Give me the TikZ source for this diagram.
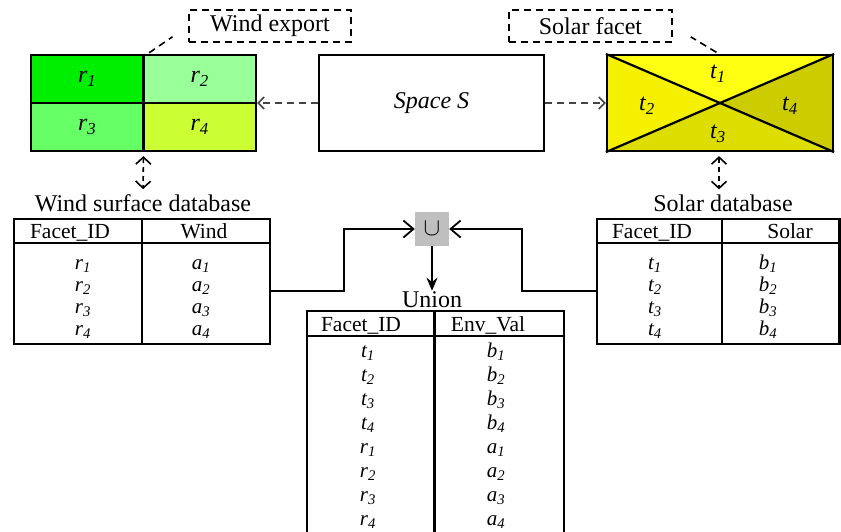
\documentclass[tikz,border=0pt]{standalone}
\usepackage{fontspec}
\setmainfont{Liberation Serif}
\usetikzlibrary{arrows.meta, positioning, calc}

\definecolor{rone}{RGB}{0,238,0}
\definecolor{rtwo}{RGB}{153,255,153}
\definecolor{rthree}{RGB}{102,255,102}
\definecolor{rfour}{RGB}{204,255,51}
\definecolor{tone}{RGB}{255,255,17}
\definecolor{ttwo}{RGB}{245,240,0}
\definecolor{tthree}{RGB}{221,221,0}
\definecolor{tfour}{RGB}{204,204,0}
\definecolor{linkgray}{RGB}{68,68,68}

\newcommand{\fid}[2]{\textit{#1\textsubscript{#2}}}

\tikzset{
    box/.style = {draw, line width=2.2pt, inner sep=0pt},
    rule/.style = {line width=2.2pt},
    cellbox/.style = {box, minimum width=112.5pt, minimum height=48pt,
        font=\fontsize{24}{28}\selectfont},
    note/.style = {draw, line width=1.6pt, dash pattern=on 7pt off 5pt,
        minimum height=32pt, inner sep=0pt, font=\fontsize{24}{28}\selectfont},
    lbl/.style = {inner sep=1pt, font=\fontsize{24}{28}\selectfont},
    head/.style = {inner sep=0pt, anchor=base, font=\fontsize{21.5}{25}\selectfont},
    cell/.style = {inner sep=0pt, anchor=base, font=\fontsize{21}{25}\selectfont},
    leader/.style = {line width=1.6pt, dash pattern=on 7pt off 5pt},
    probe/.style = {linkgray, line width=1.6pt, dash pattern=on 7pt off 5pt,
        -{Straight Barb[length=6pt, width=12pt]}},
    lookup/.style = {line width=1.6pt, dash pattern=on 5pt off 4pt,
        {Straight Barb[length=7pt, width=15pt]}-{Straight Barb[length=7pt, width=15pt]},
        shorten <=4pt, shorten >=4pt},
    merge/.style = {line width=1.8pt, -{Straight Barb[length=10pt, width=17pt]}},
    result/.style = {line width=1.8pt, -{Stealth[length=13pt, width=11pt]}}
}

\begin{document}
\begin{tikzpicture}[x=1pt, y=-1pt]
    \useasboundingbox (0,0) rectangle (841,531);

    % wind facets
    \node[cellbox, fill=rone] (r1) at (87.25,79) {\fid{r}{1}};
    \node[cellbox, fill=rtwo] (r2) at (199.75,79) {\fid{r}{2}};
    \node[cellbox, fill=rthree] (r3) at (87.25,127) {\fid{r}{3}};
    \node[cellbox, fill=rfour] (r4) at (199.75,127) {\fid{r}{4}};
    \node[box, minimum width=225pt, minimum height=96pt] (wgrid) at (143.5,103) {};

    % space
    \node[box, minimum width=225pt, minimum height=96pt,
          font=\fontsize{24}{28}\selectfont\itshape] (space) at (431.5,103) {Space S};

    % solar facets
    \coordinate (sc) at (720,103);
    \fill[tone] (607,55) -- (833,55) -- (sc) -- cycle;
    \fill[ttwo] (607,55) -- (607,151) -- (sc) -- cycle;
    \fill[tthree] (607,151) -- (833,151) -- (sc) -- cycle;
    \fill[tfour] (833,55) -- (833,151) -- (sc) -- cycle;
    \node[box, minimum width=226pt, minimum height=96pt] (sgrid) at (sc) {};
    \draw[rule] (sgrid.north west) -- (sgrid.south east);
    \draw[rule] (sgrid.south west) -- (sgrid.north east);
    \node[lbl] (t1) at (718,74) {\fid{t}{1}};
    \node[lbl] (t2) at (647,106) {\fid{t}{2}};
    \node[lbl] (t3) at (718,134) {\fid{t}{3}};
    \node[lbl] (t4) at (790,106) {\fid{t}{4}};

    % callouts
    \node[note, minimum width=162pt] (wexp) at (270,26) {Wind export};
    \node[note, minimum width=163pt] (sfac) at (590.5,26) {Solar facet};
    \draw[leader, shorten <=2pt, shorten >=19pt] ([xshift=4pt]wgrid.north) -- (wexp.west);
    \draw[leader, shorten <=3pt, shorten >=21pt] ([xshift=-1pt]sgrid.north) -- (sfac.east);

    \draw[probe] (space.west) -- (wgrid.east);
    \draw[probe] (space.east) -- (sgrid.west);

    % databases
    \node[lbl] (wlabel) at (143,203) {Wind surface database};
    \node[lbl] (slabel) at (723,203) {Solar database};
    \draw[lookup] (wgrid.south) -- (wlabel.north);
    \draw[lookup] ([xshift=-1pt]sgrid.south) -- ([xshift=-4pt]slabel.north);

    \node[box, minimum width=256pt, minimum height=125pt] (wtab) at (142,281.5) {};
    \draw[rule] ($(wtab.north west)+(0,25)$) -- ($(wtab.north east)+(0,25)$);
    \draw[rule] ($(wtab.north west)+(129,0)$) -- ($(wtab.south west)+(129,0)$);
    \node[head] at (70,238) {Facet\_ID};
    \node[head] at (204,238) {Wind};
    \foreach \i [evaluate=\i as \y using 247+22*\i] in {1,...,4} {
        \node[cell] (wid\i) at (83,\y) {\fid{r}{\i}};
        \node[cell] (wval\i) at (201,\y) {\fid{a}{\i}};
    }

    \node[box, minimum width=242.5pt, minimum height=125pt] (stab) at (718.25,281.5) {};
    \draw[rule] ($(stab.north west)+(0,25)$) -- ($(stab.north east)+(0,25)$);
    \draw[rule] ($(stab.north west)+(126,0)$) -- ($(stab.south west)+(126,0)$);
    \node[head] at (652,238) {Facet\_ID};
    \node[head] at (790,238) {Solar};
    \foreach \i [evaluate=\i as \y using 247+22*\i] in {1,...,4} {
        \node[cell] (sid\i) at (655,\y) {\fid{t}{\i}};
        \node[cell] (sval\i) at (768,\y) {\fid{b}{\i}};
    }

    % union
    \node[fill=gray!50, minimum size=34pt, inner sep=0pt,
          font=\fontsize{27}{30}\selectfont] (cup) at (432,229) {$\cup$};
    \draw[merge] ([yshift=-9.5pt]wtab.east) -- ++(73,0) |- (cup.west);
    \draw[merge] ([yshift=-9.5pt]stab.west) -- ++(-74,0) |- (cup.east);

    \node[lbl] (ulabel) at (432,300) {Union};
    \draw[result] (cup.south) -- (ulabel.north);

    \node[box, minimum width=257pt, minimum height=229pt] (utab) at (435.5,425.5) {};
    \draw[rule] ($(utab.north west)+(0,26)$) -- ($(utab.north east)+(0,26)$);
    \draw[rule] ($(utab.north west)+(128.5,0)$) -- ($(utab.south west)+(128.5,0)$);
    \node[head] at (361,331) {Facet\_ID};
    \node[head] at (488,331) {Env\_Val};
    \foreach \i [evaluate=\i as \y using 333+24*\i] in {1,...,4} {
        \node[cell] (uid\i) at (368,\y) {\fid{t}{\i}};
        \node[cell] (uval\i) at (496,\y) {\fid{b}{\i}};
    }
    \foreach \i [evaluate=\i as \y using 429+24*\i] in {1,...,4} {
        \node[cell] (uid\i r) at (368,\y) {\fid{r}{\i}};
        \node[cell] (uval\i r) at (496,\y) {\fid{a}{\i}};
    }
\end{tikzpicture}
\end{document}
